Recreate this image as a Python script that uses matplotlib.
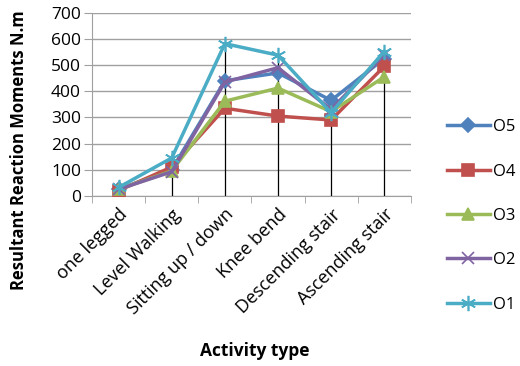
import numpy as np
import matplotlib
matplotlib.use('Agg')
import matplotlib.pyplot as plt

plt.rcParams['font.family'] = ['Open Sans', 'DejaVu Sans']

activities = ['one legged', 'Level Walking', 'Sitting up / down', 'Knee bend',
              'Descending stair', 'Ascending stair']
o5 = [25, 100, 440, 470, 365, 525]
o4 = [20, 110, 335, 305, 290, 495]
o3 = [25, 95, 362, 412, 322, 455]
o2 = [25, 92, 435, 490, 330, 540]
o1 = [32, 145, 582, 538, 318, 552]

series = [
    ('O5', o5, '#4F81BD', 'D', 7),
    ('O4', o4, '#C0504D', 's', 9),
    ('O3', o3, '#9BBB59', '^', 9),
    ('O2', o2, '#8064A2', 'x', 9),
    ('O1', o1, '#4BACC6', (6, 2, 0), 11),
]

fig = plt.figure(figsize=(5.2, 3.66), dpi=100)
ax = fig.add_axes([0.177, 0.465, 0.613, 0.50])

x = np.arange(len(activities))

# drop lines from the highest point to the axis
tops = np.max([o5, o4, o3, o2, o1], axis=0)
ax.vlines(x, 0, tops, color='black', lw=0.9, zorder=1)

handles = []
for name, vals, col, mk, ms in series:
    h, = ax.plot(x, vals, color=col, lw=2.5, marker=mk, markersize=ms,
                 markeredgewidth=1.2, label=name, zorder=3)
    handles.append(h)

ax.set_xlim(-0.5, len(activities) - 0.5)
ax.set_ylim(0, 700)
ax.set_yticks(range(0, 701, 100))
ax.yaxis.grid(True, color='#A0A0A0', lw=1)
ax.set_axisbelow(True)
ax.set_xticks(x)
ax.set_xticklabels(activities, rotation=45, ha='right', rotation_mode='anchor',
                   fontsize=13)
ax.set_xticks(np.arange(-0.5, len(activities)), minor=True)
ax.tick_params(axis='x', which='major', length=0, pad=7)
ax.tick_params(axis='x', which='minor', length=5, color='#A0A0A0')
ax.tick_params(axis='y', length=6, color='#A0A0A0', labelsize=12.5, pad=2)
for s in ['top', 'right']:
    ax.spines[s].set_visible(False)
for s in ['left', 'bottom']:
    ax.spines[s].set_color('#A0A0A0')

ax.set_ylabel('Resultant Reaction Moments N.m', fontsize=12, fontweight='bold')
ax.yaxis.set_label_coords(-0.2, 0.25)
fig.text(0.49, 0.028, 'Activity type', fontsize=12.5, fontweight='bold',
         ha='center')

fig.legend(handles=handles, loc='center left', bbox_to_anchor=(0.83, 0.41),
           frameon=False, fontsize=12, labelspacing=1.7, handlelength=2.6,
           handletextpad=0.2)

fig.savefig('out.png', dpi=100)
